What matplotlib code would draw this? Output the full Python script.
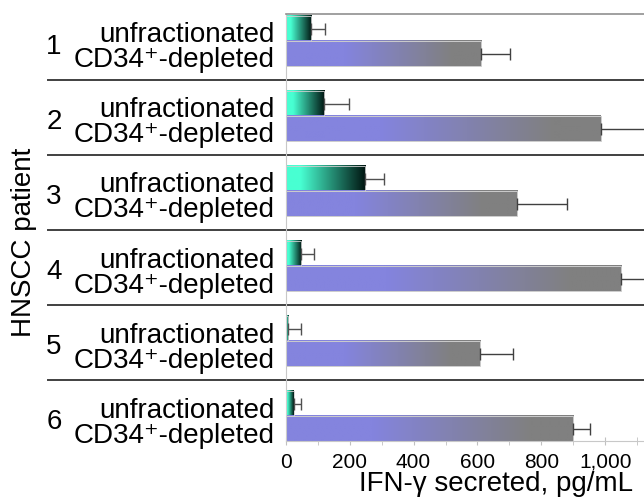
import numpy as np
import matplotlib
matplotlib.use("Agg")
import matplotlib.pyplot as plt
from matplotlib.colors import LinearSegmentedColormap

plt.rcParams['font.family'] = ['Liberation Sans', 'DejaVu Sans']

# data
patients = ["1", "2", "3", "4", "5", "6"]
conditions = ["unfractionated", "CD34\u207a-depleted"]
unfrac = [79, 119, 249, 49, 7, 25]
unfrac_err = [44, 80, 60, 41, 41, 23]
depleted = [611, 985, 725, 1050, 609, 900]
depleted_err = [91, 160, 156, 100, 102, 52]
xticks = [0, 200, 400, 600, 800, 1000]
xticklabels = ["0", "200", "400", "600", "800", "1,000"]
minor_ticks = [100, 300, 500, 700, 900, 1100]

cmap_unfrac = LinearSegmentedColormap.from_list(
    "unfrac", [(0, "#48ffd2"), (0.18, "#48ffd2"), (1, "#001410")])
cmap_depl = LinearSegmentedColormap.from_list(
    "depl", [(0, "#8484de"), (0.3, "#8484de"), (0.85, "#808080"), (1, "#808080")])

fig = plt.figure(figsize=(6.44, 4.97), dpi=100)
ax = fig.add_axes([0.4436, 0.1117, 0.5564, 0.8601])

n = len(patients)
ypos_u = np.arange(n) * 3 + 0.94
ypos_d = np.arange(n) * 3 + 1.94

bars_u = ax.barh(ypos_u, unfrac, height=1, facecolor="none",
                 edgecolor="#d0d0d0", lw=0.6, zorder=3)
bars_d = ax.barh(ypos_d, depleted, height=1, facecolor="none",
                 edgecolor="#cccccc", lw=0.7, zorder=3)

grad = np.linspace(0, 1, 256).reshape(1, -1)
for bars, cmap in [(bars_u, cmap_unfrac), (bars_d, cmap_depl)]:
    for p in bars:
        x0, y0 = p.get_x(), p.get_y()
        w, h = p.get_width(), p.get_height()
        ax.imshow(grad, cmap=cmap, aspect="auto", interpolation="bilinear",
                  extent=[x0, x0 + w, y0 + h, y0], zorder=2)

ax.errorbar(unfrac, ypos_u, xerr=[np.zeros(n), unfrac_err], fmt="none",
            ecolor="#505050", elinewidth=1, capsize=4, capthick=1, zorder=4)
ax.errorbar(depleted, ypos_d, xerr=[np.zeros(n), depleted_err], fmt="none",
            ecolor="#404040", elinewidth=1, capsize=4, capthick=1, zorder=4)

# group separators reaching into the label area
for i in range(1, n):
    ax.axhline(3 * i, xmin=-0.663, xmax=1, clip_on=False,
               color="#404040", lw=1.4)

# row labels
tr = ax.get_yaxis_transform()
for i in range(n):
    ax.text(-0.668, 3 * i + 1.68, patients[i], transform=tr,
            ha="left", va="center", fontsize=20)
    ax.text(-0.03, ypos_u[i] + 0.55, conditions[0], transform=tr,
            ha="right", va="baseline", fontsize=20)
    ax.text(-0.03, ypos_d[i] + 0.55, conditions[1], transform=tr,
            ha="right", va="baseline", fontsize=20)

ax.set_xlim(0, 1121)
ax.set_ylim(17.44, 0.36)
ax.set_yticks([])
ax.set_xticks(xticks)
ax.set_xticklabels(xticklabels, fontsize=15)
ax.set_xticks(minor_ticks, minor=True)
ax.tick_params(axis="x", which="both", direction="inout", length=6,
               color="#c0c0c0", pad=5)

ax.spines["right"].set_visible(False)
ax.spines["left"].set_color("#c8c8c8")
ax.spines["bottom"].set_color("#c8c8c8")
ax.spines["top"].set_color("#909090")
ax.spines["top"].set_linewidth(1.2)

ax.set_xlabel("IFN-\u03b3 secreted, pg/mL", fontsize=20, ha="right", va="baseline")
ax.xaxis.set_label_coords(0.969, -0.117)
ax.set_ylabel("HNSCC patient", fontsize=20, ha="center", va="center")
ax.yaxis.set_label_coords(-0.73, 0.4667)

fig.savefig("out.png", dpi=100)
